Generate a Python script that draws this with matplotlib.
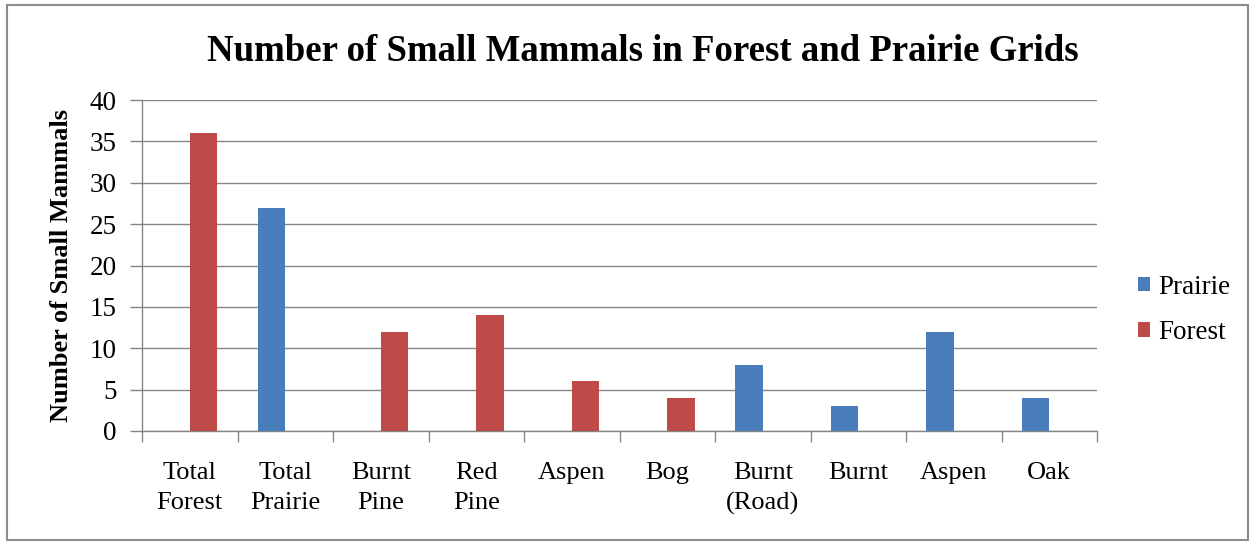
import matplotlib
matplotlib.use("Agg")
import matplotlib.pyplot as plt
import numpy as np
from matplotlib.patches import Rectangle, Patch

categories = ["Total\nForest", "Total\nPrairie", "Burnt\nPine", "Red\nPine", "Aspen",
              "Bog", "Burnt\n(Road)", "Burnt", "Aspen", "Oak"]
prairie = [0, 27, 0, 0, 0, 0, 8, 3, 12, 4]
forest = [36, 0, 12, 14, 6, 4, 0, 0, 0, 0]
yticks = [0, 5, 10, 15, 20, 25, 30, 35, 40]

title = "Number of Small Mammals in Forest and Prairie Grids"
ylabel = "Number of Small Mammals"

BLUE = "#4A7EBB"
RED = "#BE4B48"
GRAY = "#868686"

plt.rcParams['font.family'] = ['Liberation Serif', 'DejaVu Serif']

W, H = 1254, 545
fig = plt.figure(figsize=(W / 100, H / 100), dpi=100)
fig.patch.set_facecolor("white")

# outer border
fig.add_artist(Rectangle((7 / W, 5 / H), (1248 - 7) / W, (540 - 5) / H,
                         transform=fig.transFigure, fill=False,
                         edgecolor="#8c8c8c", linewidth=1.5))

ax = fig.add_axes([142 / W, 1 - 431 / H, (1097 - 142) / W, (431 - 100) / H])
x = np.arange(len(categories))
bw = 0.29
ax.bar(x - bw / 2, prairie, width=bw, color=BLUE, label="Prairie", zorder=3)
ax.bar(x + bw / 2, forest, width=bw, color=RED, label="Forest", zorder=3)

ax.set_xlim(-0.5, len(categories) - 0.5)
ax.set_ylim(0, 40)
ax.set_yticks(yticks)
ax.tick_params(axis='y', length=9, color=GRAY, width=1, pad=9, labelsize=19.5)
ax.yaxis.grid(True, color=GRAY, linewidth=1, zorder=0)
ax.set_axisbelow(True)

ax.set_xticks(np.arange(len(categories) + 1) - 0.5)
ax.set_xticklabels([])
ax.tick_params(axis='x', which='major', length=8, color=GRAY, width=1)
ax.set_xticks(x, minor=True)
ax.set_xticklabels(categories, minor=True, fontsize=19, linespacing=1.5)
ax.tick_params(axis='x', which='minor', length=0, pad=22)

for s in ['top', 'right']:
    ax.spines[s].set_visible(False)
for s in ['left', 'bottom']:
    ax.spines[s].set_color(GRAY)
    ax.spines[s].set_linewidth(1)

ax.set_ylabel(ylabel, fontsize=19, fontweight='bold', labelpad=12)

fig.text(0.513, 1 - 51 / H, title, fontsize=26.5, fontweight='bold',
         ha='center', va='center')

handles = [Patch(facecolor=BLUE), Patch(facecolor=RED)]
fig.legend(handles, ["Prairie", "Forest"], loc='center left',
           bbox_to_anchor=(1114 / W, 1 - 310 / H), frameon=False,
           fontsize=19.5, handlelength=0.42, handleheight=0.42,
           handletextpad=0.3, labelspacing=0.75)

fig.savefig("out.png", dpi=100)
